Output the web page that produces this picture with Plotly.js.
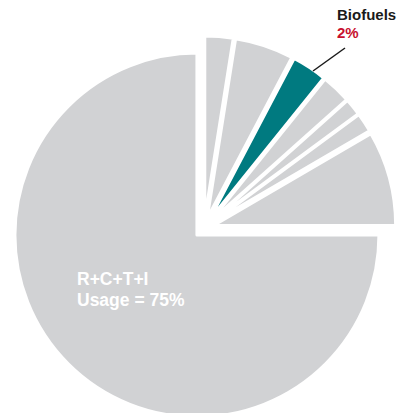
<!DOCTYPE html>
<html>
<head>
<meta charset="utf-8">
<script src="https://cdn.plot.ly/plotly-3.0.1.min.js"></script>
<style>
html,body{margin:0;padding:0;overflow:hidden;background:#fff;}
#wrap{width:406px;height:413px;overflow:hidden;}
</style>
</head>
<body>
<div id="wrap"><div id="chart"></div></div>
<script>
// Data (percent shares), clockwise from 12 o'clock
const categories = ["Other A", "Other B", "Biofuels", "Other C", "Other D", "Other E", "Other F", "R+C+T+I Usage"];
const shares = [2.5, 5.2, 3.1, 2.6, 1.5, 1.7, 8.4, 75];
const sliceColors = ["#d1d2d4", "#d1d2d4", "#007a80", "#d1d2d4", "#d1d2d4", "#d1d2d4", "#d1d2d4", "#d1d2d4"];
const biofuelsLabel = "Biofuels";
const biofuelsValueLabel = "2%";
const usageLabel1 = "R+C+T+I";
const usageLabel2 = "Usage = 75%";

const W = 406, H = 440;
// pie geometry in pixels
const cx = 204, cy = 228, R = 182, D = 10;
const pullFrac = D / R;
const half = R + D;
const px = x => x / W;
const py = y => 1 - y / H;

const trace = {
  type: 'pie',
  values: shares,
  labels: categories,
  sort: false,
  direction: 'clockwise',
  rotation: 0,
  textinfo: 'none',
  hoverinfo: 'none',
  pull: shares.map(() => pullFrac),
  marker: {colors: sliceColors, line: {color: '#ffffff', width: 3}},
  domain: {x: [px(cx - half), px(cx + half)], y: [py(cy + half), py(cy - half)]}
};

const layout = {
  width: W, height: H,
  margin: {l: 0, r: 0, t: 0, b: 0},
  showlegend: false,
  paper_bgcolor: '#ffffff',
  font: {family: 'Liberation Sans, Arial, sans-serif'},
  shapes: [{type: 'line', xref: 'paper', yref: 'paper',
    x0: px(313), y0: py(71), x1: px(345), y1: py(48),
    line: {color: '#1a1a1a', width: 1.5}}],
  annotations: [
    {text: '<b>' + biofuelsLabel + '</b>', xref: 'paper', yref: 'paper', x: px(335), y: py(14.5),
     xanchor: 'left', yanchor: 'middle', showarrow: false, font: {size: 15, color: '#1a1a1a'}},
    {text: '<b>' + biofuelsValueLabel + '</b>', xref: 'paper', yref: 'paper', x: px(335), y: py(32),
     xanchor: 'left', yanchor: 'middle', showarrow: false, font: {size: 15, color: '#c8102e'}},
    {text: '<b>' + usageLabel1 + '</b>', xref: 'paper', yref: 'paper', x: px(75), y: py(279),
     xanchor: 'left', yanchor: 'middle', showarrow: false, font: {size: 17.5, color: '#ffffff'}},
    {text: '<b>' + usageLabel2 + '</b>', xref: 'paper', yref: 'paper', x: px(75), y: py(299.5),
     xanchor: 'left', yanchor: 'middle', showarrow: false, font: {size: 17.5, color: '#ffffff'}}
  ]
};

Plotly.newPlot('chart', [trace], layout, {displayModeBar: false, staticPlot: true});
</script>
</body>
</html>
